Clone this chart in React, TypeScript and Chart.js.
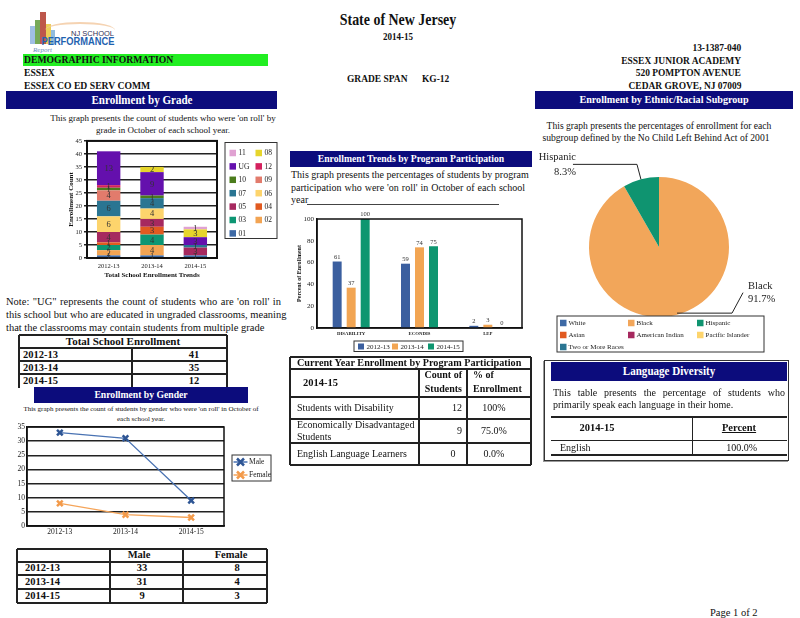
import React, { useEffect, useRef } from "react";
import { Chart, registerables } from "chart.js";

Chart.register(...registerables);

const SERIF = "'Liberation Serif', 'Times New Roman', serif";
const SANS = "'Liberation Sans', Arial, sans-serif";
Chart.defaults.font.family = SERIF;
Chart.defaults.color = "#222";

// ---------------- DATA ----------------
const schoolYears = ["2012-13", "2013-14", "2014-15"];
const gradeNames = ["01", "02", "03", "04", "05", "06", "07", "09", "10", "12", "UG", "08", "11"];
const grade01 = [1, 1, 1];
const grade02 = [2, 4, 0];
const grade03 = [2, 4, 0];
const grade04 = [1, 3, 0];
const grade05 = [4, 3, 3];
const grade06 = [6, 4, 0];
const grade07 = [6, 4, 1];
const grade09 = [4, 0, 0];
const grade10 = [1, 1, 0];
const grade12 = [1, 0, 0];
const gradeUG = [13, 9, 3];
const grade08 = [0, 2, 3];
const grade11 = [0, 0, 1];
const gradeValues = [grade01, grade02, grade03, grade04, grade05, grade06, grade07, grade09, grade10, grade12, gradeUG, grade08, grade11];
const gradeColors = ["#3d69a5", "#f2a453", "#0d9673", "#e15a20", "#a6295f", "#fdd46c", "#2a7592", "#e27b6c", "#4b7c1c", "#d4215e", "#6410ad", "#e6d52c", "#e0a2d2"];
const gradeTicks = [0, 5, 10, 15, 20, 25, 30, 35, 40, 45];

const totalEnrollment = [41, 35, 12];

const programCategories = ["DISABILITY", "ECONDIS", "LEP"];
const programSeries = ["2012-13", "2013-14", "2014-15"];
const program201213 = [61, 59, 2];
const program201314 = [37, 74, 3];
const program201415 = [100, 75, 0];
const programColors = ["#3b5f9f", "#f2a553", "#0e9670"];

const genderSeries = ["Male", "Female"];
const genderMale = [33, 31, 9];
const genderFemale = [8, 4, 3];

const ethnicGroups = ["White", "Black", "Hispanic", "Asian", "American Indian", "Pacific Islander", "Two or More Races"];
const ethnicPercents = [0, 91.7, 8.3, 0, 0, 0, 0];
const ethnicColors = ["#3d69a5", "#f2a65a", "#0f9470", "#e15a20", "#a6295f", "#fdd46c", "#2a7592"];

const currentYear = "2014-15";
const programRows = ["Students with Disability", "Economically Disadvantaged Students", "English Language Learners"];
const programCounts = [12, 9, 0];
const programPercents = ["100%", "75.0%", "0.0%"];

// ---------------- PLUGINS ----------------
const framePlugin = {
  id: "frame",
  afterDatasetsDraw(chart: any, _a: any, o: any) {
    if (!o || !o.width) return;
    const { left, top, right, bottom } = chart.chartArea;
    const ctx = chart.ctx;
    ctx.save();
    ctx.strokeStyle = o.color || "#000";
    ctx.lineWidth = o.width;
    ctx.strokeRect(left, top, right - left, bottom - top);
    ctx.restore();
  },
};

const valueLabels = {
  id: "valueLabels",
  afterDatasetsDraw(chart: any, _a: any, o: any) {
    if (!o || !o.mode) return;
    const ctx = chart.ctx;
    ctx.save();
    ctx.font = `${o.size}px ${SERIF}`;
    ctx.fillStyle = o.color || "#333";
    ctx.textAlign = "center";
    chart.data.datasets.forEach((ds: any, di: number) => {
      const meta = chart.getDatasetMeta(di);
      meta.data.forEach((el: any, i: number) => {
        const v = ds.data[i];
        const p = el.getProps(["x", "y", "base"], true);
        if (o.mode === "inside") {
          if (!v) return;
          ctx.textBaseline = "middle";
          ctx.fillText(String(v), p.x, (p.y + p.base) / 2 + 0.5);
        } else {
          ctx.textBaseline = "bottom";
          ctx.fillText(String(v), p.x, p.y - 1);
        }
      });
    });
    ctx.restore();
  },
};

const boxLegend = {
  id: "boxLegend",
  afterDraw(chart: any, _a: any, o: any) {
    if (!o || !o.items) return;
    const ctx = chart.ctx;
    ctx.save();
    ctx.fillStyle = "#fff";
    ctx.fillRect(o.x, o.y, o.w, o.h);
    ctx.strokeStyle = o.border || "#333";
    ctx.lineWidth = o.borderWidth || 1;
    ctx.strokeRect(o.x, o.y, o.w, o.h);
    ctx.font = `${o.size}px ${SERIF}`;
    ctx.textBaseline = "middle";
    ctx.textAlign = "left";
    const s = o.swatch;
    o.items.forEach((it: any) => {
      const cx = o.x + o.colX[it.col];
      const cy = o.y + o.row0 + it.row * o.rowH;
      if (it.kind === "line") {
        ctx.strokeStyle = it.color;
        ctx.lineWidth = 1.5;
        ctx.beginPath();
        ctx.moveTo(cx, cy);
        ctx.lineTo(cx + 14, cy);
        ctx.stroke();
        ctx.strokeStyle = it.marker;
        ctx.lineWidth = 2.5;
        const m = 3.5;
        const mx = cx + 7;
        ctx.beginPath();
        ctx.moveTo(mx - m, cy - m);
        ctx.lineTo(mx + m, cy + m);
        ctx.moveTo(mx + m, cy - m);
        ctx.lineTo(mx - m, cy + m);
        ctx.stroke();
      } else {
        ctx.fillStyle = it.color;
        ctx.fillRect(cx, cy - s / 2, s, s);
      }
      ctx.fillStyle = "#222";
      ctx.fillText(it.text, cx + o.textGap, cy + 0.5);
    });
    ctx.restore();
  },
};

const pieCallouts = {
  id: "pieCallouts",
  afterDraw(chart: any, _a: any, o: any) {
    if (!o || !o.size) return;
    const ctx = chart.ctx;
    const meta = chart.getDatasetMeta(0);
    const ds = chart.data.datasets[0];
    const labels = chart.data.labels;
    ctx.save();
    ctx.font = `${o.size}px ${SERIF}`;
    ctx.strokeStyle = "#222";
    ctx.fillStyle = "#222";
    ctx.lineWidth = 1;
    ctx.textBaseline = "middle";
    meta.data.forEach((arc: any, i: number) => {
      const v = ds.data[i];
      if (!v) return;
      const p = arc.getProps(["x", "y", "startAngle", "endAngle", "outerRadius"], true);
      const mid = (p.startAngle + p.endAngle) / 2;
      const ex = p.x + Math.cos(mid) * p.outerRadius;
      const ey = p.y + Math.sin(mid) * p.outerRadius;
      const pct = v.toFixed(1) + "%";
      ctx.beginPath();
      if (ex < p.x) {
        const ky = ey - 15;
        ctx.moveTo(ex, ey);
        ctx.lineTo(ex - 4, ky);
        ctx.lineTo(ex - 68, ky);
        ctx.stroke();
        ctx.textAlign = "right";
        ctx.fillText(labels[i], ex - 65, ky - 7.5);
        ctx.fillText(pct, ex - 65, ky + 7.5);
      } else {
        const ky = ey - 22;
        ctx.moveTo(ex, ey - 1.5);
        ctx.lineTo(ex + 55, ey - 1.5);
        ctx.lineTo(ex + 66, ky);
        ctx.stroke();
        ctx.textAlign = "left";
        ctx.fillText(labels[i], ex + 71, ky - 6.5);
        ctx.fillText(pct, ex + 71, ky + 6.5);
      }
    });
    ctx.restore();
  },
};

// ---------------- CHART CONFIGS ----------------
function gradeConfig(): any {
  const datasets = gradeNames.map((name, i) => ({
    label: name,
    data: gradeValues[i],
    backgroundColor: gradeColors[i],
    borderWidth: 0,
    stack: "g",
    barPercentage: 0.54,
    categoryPercentage: 1,
  }));
  const legendItems = gradeNames
    .map((name, i) => ({ text: name, color: gradeColors[i] }))
    .reverse()
    .map((it, k) => ({ ...it, row: Math.floor(k / 2), col: k % 2 }));
  return {
    type: "bar",
    data: { labels: schoolYears, datasets },
    options: {
      responsive: false,
      maintainAspectRatio: false,
      animation: false,
      layout: { padding: { top: 5, right: 63, left: 0, bottom: 0 } },
      plugins: {
        legend: { display: false },
        tooltip: { enabled: false },
        frame: { width: 2, color: "#111" },
        valueLabels: { mode: "inside", size: 8.5, color: "#333" },
        boxLegend: {
          x: 165, y: 7.5, w: 52, h: 96, size: 7.5, swatch: 6.5, textGap: 9,
          colX: [4.5, 30.5], row0: 10.5, rowH: 13.4, items: legendItems, border: "#333",
        },
      },
      scales: {
        x: {
          stacked: true,
          grid: { display: false, drawTicks: false },
          border: { display: true, color: "#111", width: 2 },
          ticks: { font: { size: 6.5 }, color: "#222", padding: 4 },
          title: { display: true, text: "Total School Enrollment Trends", font: { size: 7, weight: "bold" }, color: "#111", padding: { top: 0, bottom: 1 } },
          afterFit: (s: any) => { s.height = 22; },
        },
        y: {
          stacked: true,
          min: 0,
          max: 45,
          afterBuildTicks: (s: any) => { s.ticks = gradeTicks.map((v) => ({ value: v })); },
          ticks: { font: { size: 6.5 }, color: "#222", padding: 2 },
          grid: { color: "#222", lineWidth: 1.5, tickLength: 3, drawTicks: true },
          border: { color: "#111", width: 2 },
          title: { display: true, text: "Enrollment Count", font: { size: 7, weight: "bold" }, color: "#111", padding: { top: 7, bottom: 0 } },
          afterFit: (s: any) => { s.width = 27; },
        },
      },
    },
    plugins: [framePlugin, valueLabels, boxLegend],
  };
}

function programConfig(): any {
  const seriesValues = [program201213, program201314, program201415];
  const datasets = programSeries.map((name, i) => ({
    label: name,
    data: seriesValues[i],
    backgroundColor: programColors[i],
    borderWidth: 0,
    barPercentage: 0.64,
    categoryPercentage: 0.615,
  }));
  const legendItems = programSeries.map((name, i) => ({ text: name, color: programColors[i], row: 0, col: i }));
  return {
    type: "bar",
    data: { labels: programCategories, datasets },
    options: {
      responsive: false,
      maintainAspectRatio: false,
      animation: false,
      layout: { padding: { top: 14, right: 10, left: 0, bottom: 0 } },
      plugins: {
        legend: { display: false },
        tooltip: { enabled: false },
        frame: { width: 1.5, color: "#111" },
        valueLabels: { mode: "top", size: 6.5, color: "#333" },
        boxLegend: {
          x: 64, y: 136, w: 109, h: 10.5, size: 7, swatch: 6, textGap: 8.5,
          colX: [4, 38, 74], row0: 5.5, rowH: 10, items: legendItems, border: "#333",
        },
      },
      scales: {
        x: {
          grid: { display: false, drawTicks: false },
          border: { display: true, color: "#111", width: 1.5 },
          ticks: { font: { size: 4.8, weight: "bold" }, color: "#222", padding: 3 },
          afterFit: (s: any) => { s.height = 29; },
        },
        y: {
          min: 0,
          max: 100,
          ticks: { stepSize: 20, font: { size: 7 }, color: "#222", padding: 3 },
          grid: { display: false, drawTicks: false },
          border: { color: "#111", width: 1.5 },
          title: { display: true, text: "Percent of Enrollment", font: { size: 6, weight: "bold" }, color: "#111", padding: { top: 5.5, bottom: 0 } },
          afterFit: (s: any) => { s.width = 27; },
        },
      },
    },
    plugins: [framePlugin, valueLabels, boxLegend],
  };
}

function genderConfig(): any {
  const lineColors = ["#4a73b3", "#f5a55a"];
  const markerColors = ["#2e5594", "#f39a4a"];
  const seriesValues = [genderMale, genderFemale];
  const datasets = genderSeries.map((name, i) => ({
    label: name,
    data: seriesValues[i],
    borderColor: lineColors[i],
    borderWidth: 1.3,
    pointStyle: "crossRot",
    pointRadius: 4,
    pointBorderWidth: 2.5,
    pointBorderColor: markerColors[i],
    pointBackgroundColor: markerColors[i],
    fill: false,
    tension: 0,
  }));
  const legendItems = genderSeries.map((name, i) => ({ text: name, color: lineColors[i], marker: markerColors[i], kind: "line", row: i, col: 0 }));
  return {
    type: "line",
    data: { labels: schoolYears, datasets },
    options: {
      responsive: false,
      maintainAspectRatio: false,
      animation: false,
      layout: { padding: { top: 7, right: 56, left: 0, bottom: 0 } },
      plugins: {
        legend: { display: false },
        tooltip: { enabled: false },
        frame: { width: 1.5, color: "#111" },
        boxLegend: {
          x: 227, y: 35, w: 39, h: 26, size: 7.5, swatch: 6, textGap: 15.5,
          colX: [1.5], row0: 7, rowH: 13, items: legendItems, border: "#333",
        },
      },
      scales: {
        x: {
          offset: true,
          grid: { display: false, drawTicks: false },
          border: { display: true, color: "#111", width: 1.5 },
          ticks: { font: { size: 7.5 }, color: "#222", padding: 2 },
          afterFit: (s: any) => { s.height = 14; },
        },
        y: {
          min: 0,
          max: 35,
          ticks: { stepSize: 5, font: { size: 7.5 }, color: "#222", padding: 2 },
          grid: { color: "#222", lineWidth: 1.5, drawTicks: false },
          border: { color: "#111", width: 1.5 },
          afterFit: (s: any) => { s.width = 22; },
        },
      },
    },
    plugins: [framePlugin, boxLegend],
  };
}

function ethnicConfig(): any {
  const legendItems = ethnicGroups.map((name, i) => ({ text: name, color: ethnicColors[i], row: Math.floor(i / 3), col: i % 3 }));
  return {
    type: "pie",
    data: {
      labels: ethnicGroups,
      datasets: [{ data: ethnicPercents, backgroundColor: ethnicColors, borderWidth: 0 }],
    },
    options: {
      responsive: false,
      maintainAspectRatio: false,
      animation: false,
      rotation: 0,
      layout: { padding: { left: 59, right: 63, top: 37, bottom: 45 } },
      plugins: {
        legend: { display: false },
        tooltip: { enabled: false },
        pieCallouts: { size: 10.5 },
        boxLegend: {
          x: 27, y: 176, w: 207, h: 36, size: 7, swatch: 6.5, textGap: 8.5,
          colX: [3, 71, 140], row0: 7, rowH: 12, items: legendItems, border: "#333",
        },
      },
    },
    plugins: [pieCallouts, boxLegend],
  };
}

// ---------------- COMPONENTS ----------------
function ChartBox({ left, top, width, height, make }: any) {
  const ref = useRef<HTMLCanvasElement>(null);
  useEffect(() => {
    const chart = new Chart(ref.current as HTMLCanvasElement, make());
    return () => chart.destroy();
  }, []);
  return (
    <canvas
      ref={ref}
      width={width}
      height={height}
      style={{ position: "absolute", left, top, width, height }}
    />
  );
}

function T({ x, y, s = 10, b = false, a = "left", sx = 1, color = "#111", i = false, u = false, f = SERIF, children }: any) {
  const style: any = {
    position: "absolute",
    top: y - s * 0.6,
    fontSize: s,
    lineHeight: `${s * 1.2}px`,
    fontWeight: b ? "bold" : "normal",
    fontStyle: i ? "italic" : "normal",
    textDecoration: u ? "underline" : "none",
    whiteSpace: "nowrap",
    fontFamily: f,
    color,
  };
  if (a === "left") {
    style.left = x;
    style.transformOrigin = "left center";
    style.transform = `scaleX(${sx})`;
  } else if (a === "right") {
    style.right = 800 - x;
    style.transformOrigin = "right center";
    style.transform = `scaleX(${sx})`;
  } else {
    style.left = x;
    style.transformOrigin = "center center";
    style.transform = `translateX(-50%) scaleX(${sx})`;
  }
  return <div style={style}>{children}</div>;
}

function JL({ x, y, w, s = 10, children }: any) {
  return (
    <div
      style={{
        position: "absolute",
        left: x,
        top: y - s * 0.6,
        width: w,
        fontSize: s,
        lineHeight: `${s * 1.2}px`,
        textAlign: "justify",
        textAlignLast: "justify",
        whiteSpace: "nowrap",
        fontFamily: SERIF,
        color: "#111",
      } as any}
    >
      {children}
    </div>
  );
}

function HL({ x1, x2, y, t = 1.5, c = "#222" }: any) {
  return <div style={{ position: "absolute", left: x1, top: y - t / 2, width: x2 - x1, height: t, background: c }} />;
}
function VL({ x, y1, y2, t = 1.5, c = "#222" }: any) {
  return <div style={{ position: "absolute", left: x - t / 2, top: y1, width: t, height: y2 - y1, background: c }} />;
}

const NAVY = "#0c0c7c";
function NavyBar({ x, y, w, h, s = 11, sx = 0.92, children }: any) {
  return (
    <div style={{ position: "absolute", left: x, top: y, width: w, height: h, background: NAVY }}>
      <T x={w / 2} y={h / 2} s={s} b a="center" sx={sx} color="#fff">{children}</T>
    </div>
  );
}

function Logo() {
  const bars = [
    { x: 30, y: 26, w: 5, h: 18, c: "#8fb4e0" },
    { x: 35, y: 20, w: 5, h: 24, c: "#5f9a3c" },
    { x: 40, y: 12, w: 6, h: 32, c: "#b23a2c" },
    { x: 46, y: 24, w: 5, h: 20, c: "#e8c53a" },
    { x: 51, y: 30, w: 4, h: 14, c: "#7db0d8" },
  ];
  return (
    <div>
      {bars.map((b, k) => (
        <div key={k} style={{ position: "absolute", left: b.x, top: b.y, width: b.w, height: b.h, background: b.c, opacity: 0.85 }} />
      ))}
      <div style={{ position: "absolute", left: 45, top: 22, width: 70, height: 14, borderTop: "2px solid #f3c9a0", borderRadius: "60% 60% 0 0", opacity: 0.8 }} />
      <T x={114} y={33} s={7.5} a="right" f={SANS} color="#335">NJ SCHOOL</T>
      <T x={114} y={42} s={10} b a="right" sx={0.93} f={SANS} color="#1f63b0">PERFORMANCE</T>
      <T x={33} y={50} s={7} i a="left" color="#6b8fc0">Report</T>
    </div>
  );
}

export default function App() {
  return (
    <div
      style={{
        position: "absolute",
        left: 0,
        top: 0,
        width: 800,
        height: 618,
        background: "#fff",
        overflow: "hidden",
        fontFamily: SERIF,
        color: "#111",
      }}
    >
      <Logo />
      {/* Header */}
      <T x={398} y={20} s={17} b a="center" sx={0.82}>State of New Jersey</T>
      <T x={398} y={37} s={11} b a="center" sx={0.82}>2014-15</T>
      <div style={{ position: "absolute", left: 23, top: 54, width: 245, height: 12, background: "#22ee22" }} />
      <T x={24} y={60} s={10.5} b sx={0.92}>DEMOGRAPHIC INFORMATION</T>
      <T x={24} y={73} s={10.5} b sx={0.92}>ESSEX</T>
      <T x={24} y={86} s={10.5} b sx={0.92}>ESSEX CO ED SERV COMM</T>
      <T x={347} y={79} s={10.5} b sx={0.9}>GRADE SPAN</T>
      <T x={422} y={79} s={10.5} b sx={0.9}>KG-12</T>
      <T x={741} y={48} s={10.5} b a="right" sx={0.9}>13-1387-040</T>
      <T x={741} y={61} s={10.5} b a="right" sx={0.9}>ESSEX JUNIOR ACADEMY</T>
      <T x={741} y={73} s={10.5} b a="right" sx={0.9}>520 POMPTON AVENUE</T>
      <T x={741} y={86} s={10.5} b a="right" sx={0.9}>CEDAR GROVE, NJ 07009</T>

      <NavyBar x={6} y={91} w={271} h={18} s={12}>Enrollment by Grade</NavyBar>
      <NavyBar x={535} y={91} w={258} h={18} s={11}>Enrollment by Ethnic/Racial Subgroup</NavyBar>

      {/* Enrollment by grade */}
      <T x={163} y={118} s={9} a="center">This graph presents the count of students who were 'on roll' by</T>
      <T x={163} y={130} s={9} a="center">grade in October of each school year.</T>
      <ChartBox left={60} top={135} width={220} height={145} make={gradeConfig} />

      <JL x={6} y={302} w={275} s={10.5}>Note: "UG" represents the count of students who are 'on roll' in</JL>
      <JL x={6} y={315} w={275} s={10.5}>this school but who are educated in ungraded classrooms, meaning</JL>
      <T x={6} y={328} s={10.5}>that the classrooms may contain students from multiple grade</T>

      {/* Total School Enrollment table */}
      <HL x1={19} x2={227} y={335} t={1.5} />
      <HL x1={19} x2={227} y={348} t={2} />
      <HL x1={19} x2={227} y={361} t={2} />
      <HL x1={19} x2={227} y={374} t={2} />
      <VL x={19} y1={335} y2={388} t={1.5} />
      <VL x={227} y1={335} y2={388} t={1.5} />
      <VL x={132} y1={348} y2={388} t={1.5} />
      <T x={123} y={341.5} s={11} b a="center">Total School Enrollment</T>
      {schoolYears.map((yr, k) => (
        <React.Fragment key={yr}>
          <T x={23} y={355 + k * 13} s={10.5} b>{yr}</T>
          <T x={194} y={355 + k * 13} s={10.5} b a="center">{totalEnrollment[k]}</T>
        </React.Fragment>
      ))}

      {/* Enrollment by gender */}
      <NavyBar x={34} y={387} w={214} h={16} s={10.5}>Enrollment by Gender</NavyBar>
      <T x={141} y={409} s={7} a="center">This graph presents the count of students by gender who were 'on roll' in October of</T>
      <T x={141} y={419} s={7} a="center">each school year.</T>
      <ChartBox left={5} top={420} width={275} height={120} make={genderConfig} />

      {/* Gender table */}
      <HL x1={17} x2={267} y={549} t={1.5} />
      <HL x1={17} x2={267} y={561.5} t={2} />
      <HL x1={17} x2={267} y={575} t={2} />
      <HL x1={17} x2={267} y={589} t={2} />
      <HL x1={17} x2={267} y={603} t={1.5} />
      <VL x={17} y1={549} y2={603} t={1.5} />
      <VL x={267} y1={549} y2={603} t={1.5} />
      <VL x={110} y1={549} y2={603} t={1.5} />
      <VL x={183} y1={549} y2={603} t={1.5} />
      <T x={139} y={555} s={10.5} b a="center">Male</T>
      <T x={231} y={555} s={10.5} b a="center">Female</T>
      {schoolYears.map((yr, k) => (
        <React.Fragment key={"g" + yr}>
          <T x={25} y={568 + k * 14} s={10.5} b>{yr}</T>
          <T x={142} y={568 + k * 14} s={10.5} b a="center">{genderMale[k]}</T>
          <T x={237} y={568 + k * 14} s={10.5} b a="center">{genderFemale[k]}</T>
        </React.Fragment>
      ))}

      {/* Program participation */}
      <NavyBar x={290} y={151} w={242} h={16} s={10.5}>Enrollment Trends by Program Participation</NavyBar>
      <JL x={291} y={175} w={229} s={10}>This graph presents the percentages of students by program</JL>
      <JL x={291} y={188} w={234} s={10}>participation who were 'on roll' in October of each school</JL>
      <T x={291} y={200} s={10}>year</T>
      <HL x1={307} x2={499} y={204.5} t={0.8} c="#444" />
      <ChartBox left={290} top={205} width={242} height={152} make={programConfig} />

      {/* Program table */}
      <HL x1={290} x2={531} y={357} t={1.5} />
      <HL x1={290} x2={531} y={369} t={2} />
      <HL x1={290} x2={531} y={397} t={1.5} />
      <HL x1={290} x2={531} y={419} t={2} />
      <HL x1={290} x2={531} y={443} t={1.5} />
      <HL x1={290} x2={531} y={465} t={1.5} />
      <VL x={290} y1={357} y2={465} t={1.5} />
      <VL x={531} y1={357} y2={465} t={1.5} />
      <VL x={419} y1={369} y2={465} t={1.5} />
      <VL x={467} y1={369} y2={465} t={1.5} />
      <T x={297} y={363.5} s={10.5} b sx={0.97}>Current Year Enrollment by Program Participation</T>
      <T x={303} y={383} s={10.5} b>{currentYear}</T>
      <T x={462} y={375} s={10} b a="right">Count of</T>
      <T x={462} y={389} s={10} b a="right">Students</T>
      <T x={473} y={375} s={10} b>% of</T>
      <T x={473} y={389} s={10} b>Enrollment</T>
      <T x={297} y={408} s={10}>{programRows[0]}</T>
      <T x={462} y={408} s={10} a="right">{programCounts[0]}</T>
      <T x={494} y={408} s={10} a="center">{programPercents[0]}</T>
      <T x={297} y={425} s={10}>Economically Disadvantaged</T>
      <T x={297} y={437} s={10}>Students</T>
      <T x={462} y={431} s={10} a="right">{programCounts[1]}</T>
      <T x={494} y={431} s={10} a="center">{programPercents[1]}</T>
      <T x={297} y={454} s={10}>{programRows[2]}</T>
      <T x={453} y={454} s={10} a="center">{programCounts[2]}</T>
      <T x={494} y={454} s={10} a="center">{programPercents[2]}</T>

      {/* Ethnic */}
      <T x={659} y={126} s={9.6} a="center">This graph presents the percentages of enrollment for each</T>
      <T x={656} y={138} s={9.6} a="center">subgroup defined by the No Child Left Behind Act of 2001</T>
      <ChartBox left={530} top={140} width={262} height={222} make={ethnicConfig} />

      {/* Language diversity */}
      <div style={{ position: "absolute", left: 544, top: 360, width: 243, height: 99, border: "1px solid #333", boxShadow: "-1px 1px 0 #999" }} />
      <NavyBar x={551} y={362} w={236} h={19} s={12}>Language Diversity</NavyBar>
      <JL x={553} y={393} w={232} s={10}>This table presents the percentage of students who</JL>
      <T x={553} y={405} s={10}>primarily speak each language in their home.</T>
      <HL x1={551} x2={787} y={417} t={1.5} />
      <HL x1={551} x2={787} y={440} t={1} />
      <HL x1={551} x2={787} y={455} t={1.5} />
      <VL x={692} y1={417} y2={455} t={1} />
      <T x={597} y={428} s={10.5} b a="center">{currentYear}</T>
      <T x={739} y={428} s={10.5} b a="center" u>Percent</T>
      <T x={560} y={448} s={10}>English</T>
      <T x={757} y={448} s={10} a="right">100.0%</T>

      <T x={710} y={613} s={10.5}>Page 1 of 2</T>
    </div>
  );
}
